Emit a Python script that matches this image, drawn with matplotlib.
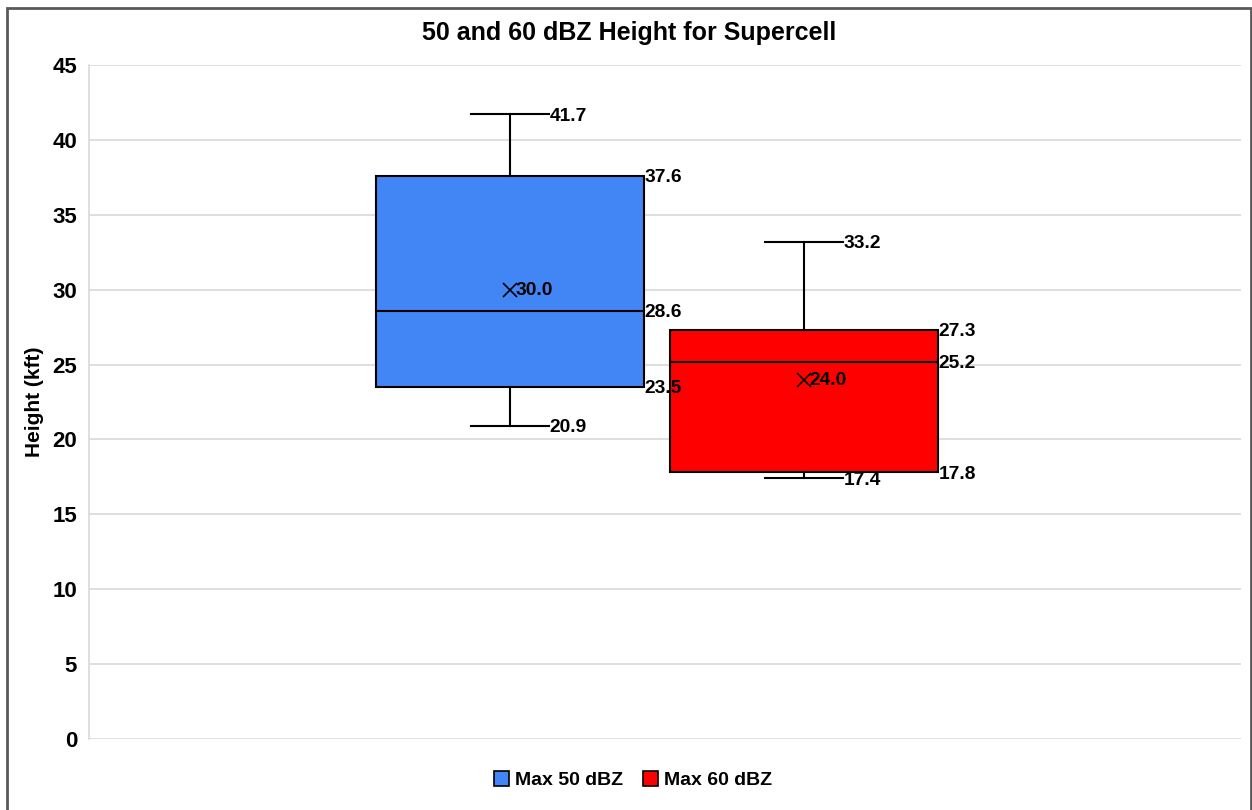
import matplotlib
matplotlib.use("Agg")
import matplotlib.pyplot as plt
from matplotlib.patches import Patch, Rectangle

plt.rcParams['font.family'] = ['Liberation Sans', 'DejaVu Sans']
plt.rcParams['font.weight'] = 'bold'

series = ["Max 50 dBZ", "Max 60 dBZ"]
colors = ["#4285F4", "#FF0000"]
whisker_low = [20.9, 17.4]
q1 = [23.5, 17.8]
median = [28.6, 25.2]
q3 = [37.6, 27.3]
whisker_high = [41.7, 33.2]
mean = [30.0, 24.0]
yticks = [0, 5, 10, 15, 20, 25, 30, 35, 40, 45]

W, H = 1252, 810
fig = plt.figure(figsize=(W / 100, H / 100), dpi=100)
ax = fig.add_axes([89 / W, 1 - 739 / H, 1152 / W, 674 / H])

positions = [0.3655, 0.6207]
box_w = 0.2326
cap_w = 0.0677

stats = []
for i in range(len(series)):
    stats.append(dict(label=series[i], whislo=whisker_low[i], q1=q1[i], med=median[i],
                      q3=q3[i], whishi=whisker_high[i], mean=mean[i], fliers=[]))

bp = ax.bxp(stats, positions=positions, widths=box_w, capwidths=cap_w,
            showmeans=True, patch_artist=True, manage_ticks=False,
            boxprops=dict(edgecolor='black', linewidth=1.5),
            medianprops=dict(color='black', linewidth=1.5),
            whiskerprops=dict(color='black', linewidth=1.5),
            capprops=dict(color='black', linewidth=1.5),
            meanprops=dict(marker='x', markeredgecolor='black', markersize=10, markeredgewidth=1.2))
for patch, c in zip(bp['boxes'], colors):
    patch.set_facecolor(c)
    patch.set_zorder(2)
for key in ['medians', 'whiskers', 'caps', 'means']:
    for art in bp[key]:
        art.set_zorder(3)

lab_fs = 13.8
for i, p in enumerate(positions):
    for v, xo in [(whisker_high[i], cap_w / 2), (whisker_low[i], cap_w / 2),
                  (q3[i], box_w / 2), (median[i], box_w / 2), (q1[i], box_w / 2)]:
        ax.annotate(f"{v:.1f}", (p + xo, v), xytext=(0.5, -1.2), textcoords='offset points',
                    ha='left', va='center', fontsize=lab_fs, fontweight='bold', zorder=5)
    ax.annotate(f"{mean[i]:.1f}", (p, mean[i]), xytext=(4, -0.5), textcoords='offset points',
                ha='left', va='center', fontsize=lab_fs, fontweight='bold', zorder=5)

ax.set_xlim(0, 1)
ax.set_ylim(0, 45)
ax.set_yticks(yticks)
ax.set_xticks([])
ax.tick_params(axis='y', length=0, pad=8.5, labelsize=16)
for lbl in ax.get_yticklabels():
    lbl.set_fontweight('bold')
ax.grid(axis='y', color='#d9d9d9', linewidth=1.2, zorder=0)
ax.set_axisbelow(True)
for s in ['top', 'right', 'bottom']:
    ax.spines[s].set_visible(False)
ax.spines['left'].set_color('#d9d9d9')
ax.spines['left'].set_linewidth(1.2)

ax.set_ylabel("Height (kft)", fontsize=15, fontweight='bold', labelpad=6)
fig.text(629 / W, 1 - 33 / H, "50 and 60 dBZ Height for Supercell", ha='center', va='center',
         fontsize=18, fontweight='bold')

handles = [Patch(facecolor=c, edgecolor='black', linewidth=1.2) for c in colors]
fig.legend(handles, series, loc='center', bbox_to_anchor=(633 / W, 1 - 780 / H), ncol=2,
           frameon=False, handlelength=0.8, handleheight=0.8,
           handletextpad=0.3, columnspacing=1.0, prop=dict(weight='bold', size=14))

fig.patches.append(Rectangle((7 / W, -0.01), (1251 - 7) / W, (H - 8) / H + 0.01,
                             transform=fig.transFigure, fill=False, edgecolor='#595959',
                             linewidth=2, zorder=10))

fig.savefig("out.png", dpi=100)
